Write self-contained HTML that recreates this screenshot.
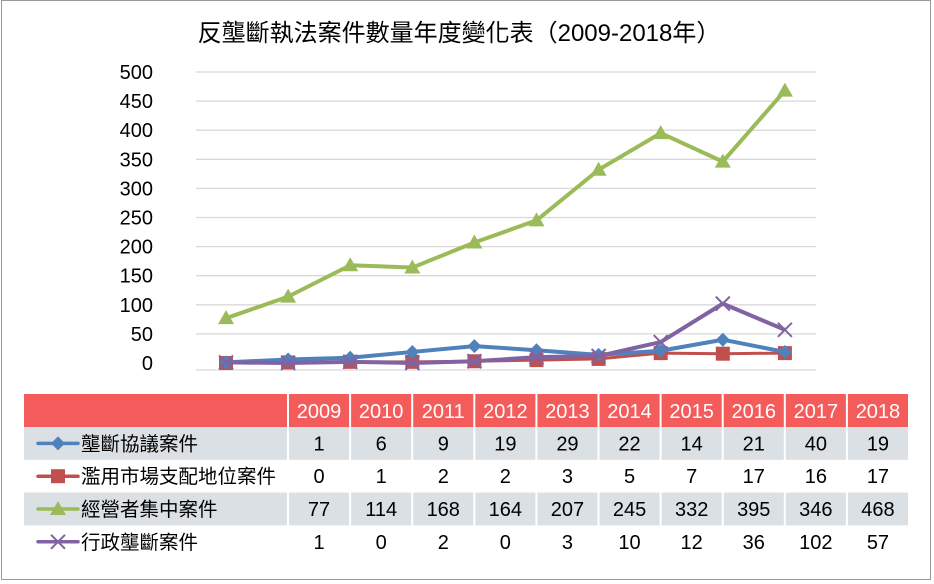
<!DOCTYPE html>
<html><head><meta charset="utf-8"><style>
body{margin:0;background:#fff;}
#wrap{position:relative;width:934px;height:584px;font-family:"Liberation Sans","Noto Sans CJK TC",sans-serif;}
#frame{position:absolute;left:1px;top:0;width:930px;height:580px;border:1px solid #9a9a9a;box-sizing:border-box;}
</style></head><body>
<div id="wrap">
<div id="frame"></div>
<svg id="svg" width="934" height="584" style="position:absolute;left:0;top:0"></svg>
</div>
<script>
const years=["2009","2010","2011","2012","2013","2014","2015","2016","2017","2018"];
const seriesNames=["壟斷協議案件","濫用市場支配地位案件","經營者集中案件","行政壟斷案件"];
const cartel=[1,6,9,19,29,22,14,21,40,19];
const abuse=[0,1,2,2,3,5,7,17,16,17];
const merger=[77,114,168,164,207,245,332,395,346,468];
const admin=[1,0,2,0,3,10,12,36,102,57];
const yTicks=[0,50,100,150,200,250,300,350,400,450,500];
const NS="http://www.w3.org/2000/svg";
const svg=document.getElementById('svg');
function mk(t,a,p){const e=document.createElementNS(NS,t);for(const k in a)e.setAttribute(k,a[k]);(p||svg).appendChild(e);return e;}
const x=i=>226+i*62.1;
const y=v=>363-v*0.582;
const colors=["#4f81bd","#c0504d","#9bbb59","#8064a2"];
const data=[cartel,abuse,merger,admin];
let t=mk('text',{x:459,y:41,'text-anchor':'middle','font-size':24,fill:'#000'});t.textContent="反壟斷執法案件數量年度變化表（2009-2018年）";

yTicks.forEach(v=>{
 if(v>0){const l=mk('line',{x1:196,x2:816,y1:y(v),y2:y(v),stroke:'#d9d9d9','stroke-width':1.3});
 }
 const tx=mk('text',{x:153,y:y(v)+7,'text-anchor':'end','font-size':20,fill:'#000'});tx.textContent=v;
 
});
const ax=mk('line',{x1:196,x2:816,y1:370,y2:370,stroke:'#d9d9d9','stroke-width':1.3});

function marker(k,cx,cy,g){
 let e;
 if(k===0)e=mk('polygon',{points:`${cx},${cy-7} ${cx+7},${cy} ${cx},${cy+7} ${cx-7},${cy}`,fill:colors[0]},g);
 else if(k===1)e=mk('rect',{x:cx-7,y:cy-7,width:14,height:14,fill:colors[1]},g);
 else if(k===2)e=mk('polygon',{points:`${cx},${cy-8} ${cx+8},${cy+6} ${cx-8},${cy+6}`,fill:colors[2]},g);
 else e=mk('path',{d:`M${cx-7} ${cy-7}L${cx+7} ${cy+7}M${cx+7} ${cy-7}L${cx-7} ${cy+7}`,stroke:colors[3],'stroke-width':2},g);
 
}
[1,0,3,2].forEach(k=>{
 const g=mk('g',{});
 const pl=mk('polyline',{points:data[k].map((v,i)=>x(i)+','+y(v)).join(' '),fill:'none',stroke:colors[k],'stroke-width':k===1?3:4,'stroke-linejoin':'round'},g);
 
 data[k].forEach((v,i)=>marker(k,x(i),y(v),g));
});
const tl=24,lw=264,cw=62.1,tableTop=394,hh=33,rh=32.8;
const hr=mk('rect',{x:tl,y:tableTop,width:lw+cw*10,height:hh,fill:'#f45b5b'});

years.forEach((yr,i)=>{
 const tx=mk('text',{x:tl+lw+cw*i+cw/2,y:tableTop+24,'text-anchor':'middle','font-size':20,fill:'#fff'});tx.textContent=yr;
 
});
data.forEach((arr,r)=>{
 const ry=tableTop+hh+r*rh;
 if(r%2===0){const bg=mk('rect',{x:tl,y:ry,width:lw+cw*10,height:rh,fill:'#dae0e4'});
  }
 const cy=ry+rh/2;
 const ll=mk('line',{x1:38,x2:78,y1:cy,y2:cy,stroke:colors[r],'stroke-width':3.5,'stroke-linecap':'round'});
 
 marker(r,58,cy,svg);
 const nm=mk('text',{x:81,y:cy+7,'font-size':19.5,fill:'#000'});nm.textContent=seriesNames[r];
 
 arr.forEach((v,i)=>{
  const tx=mk('text',{x:tl+lw+cw*i+cw/2,y:cy+7,'text-anchor':'middle','font-size':20,fill:'#000'});tx.textContent=v;
  
 });
});
for(let i=0;i<=10;i++){
 const sx=tl+lw+cw*i;
 const l=mk('line',{x1:sx,x2:sx,y1:tableTop,y2:tableTop+hh+rh*4,stroke:'#fff','stroke-width':2});
 
}
</script>
</body></html>
